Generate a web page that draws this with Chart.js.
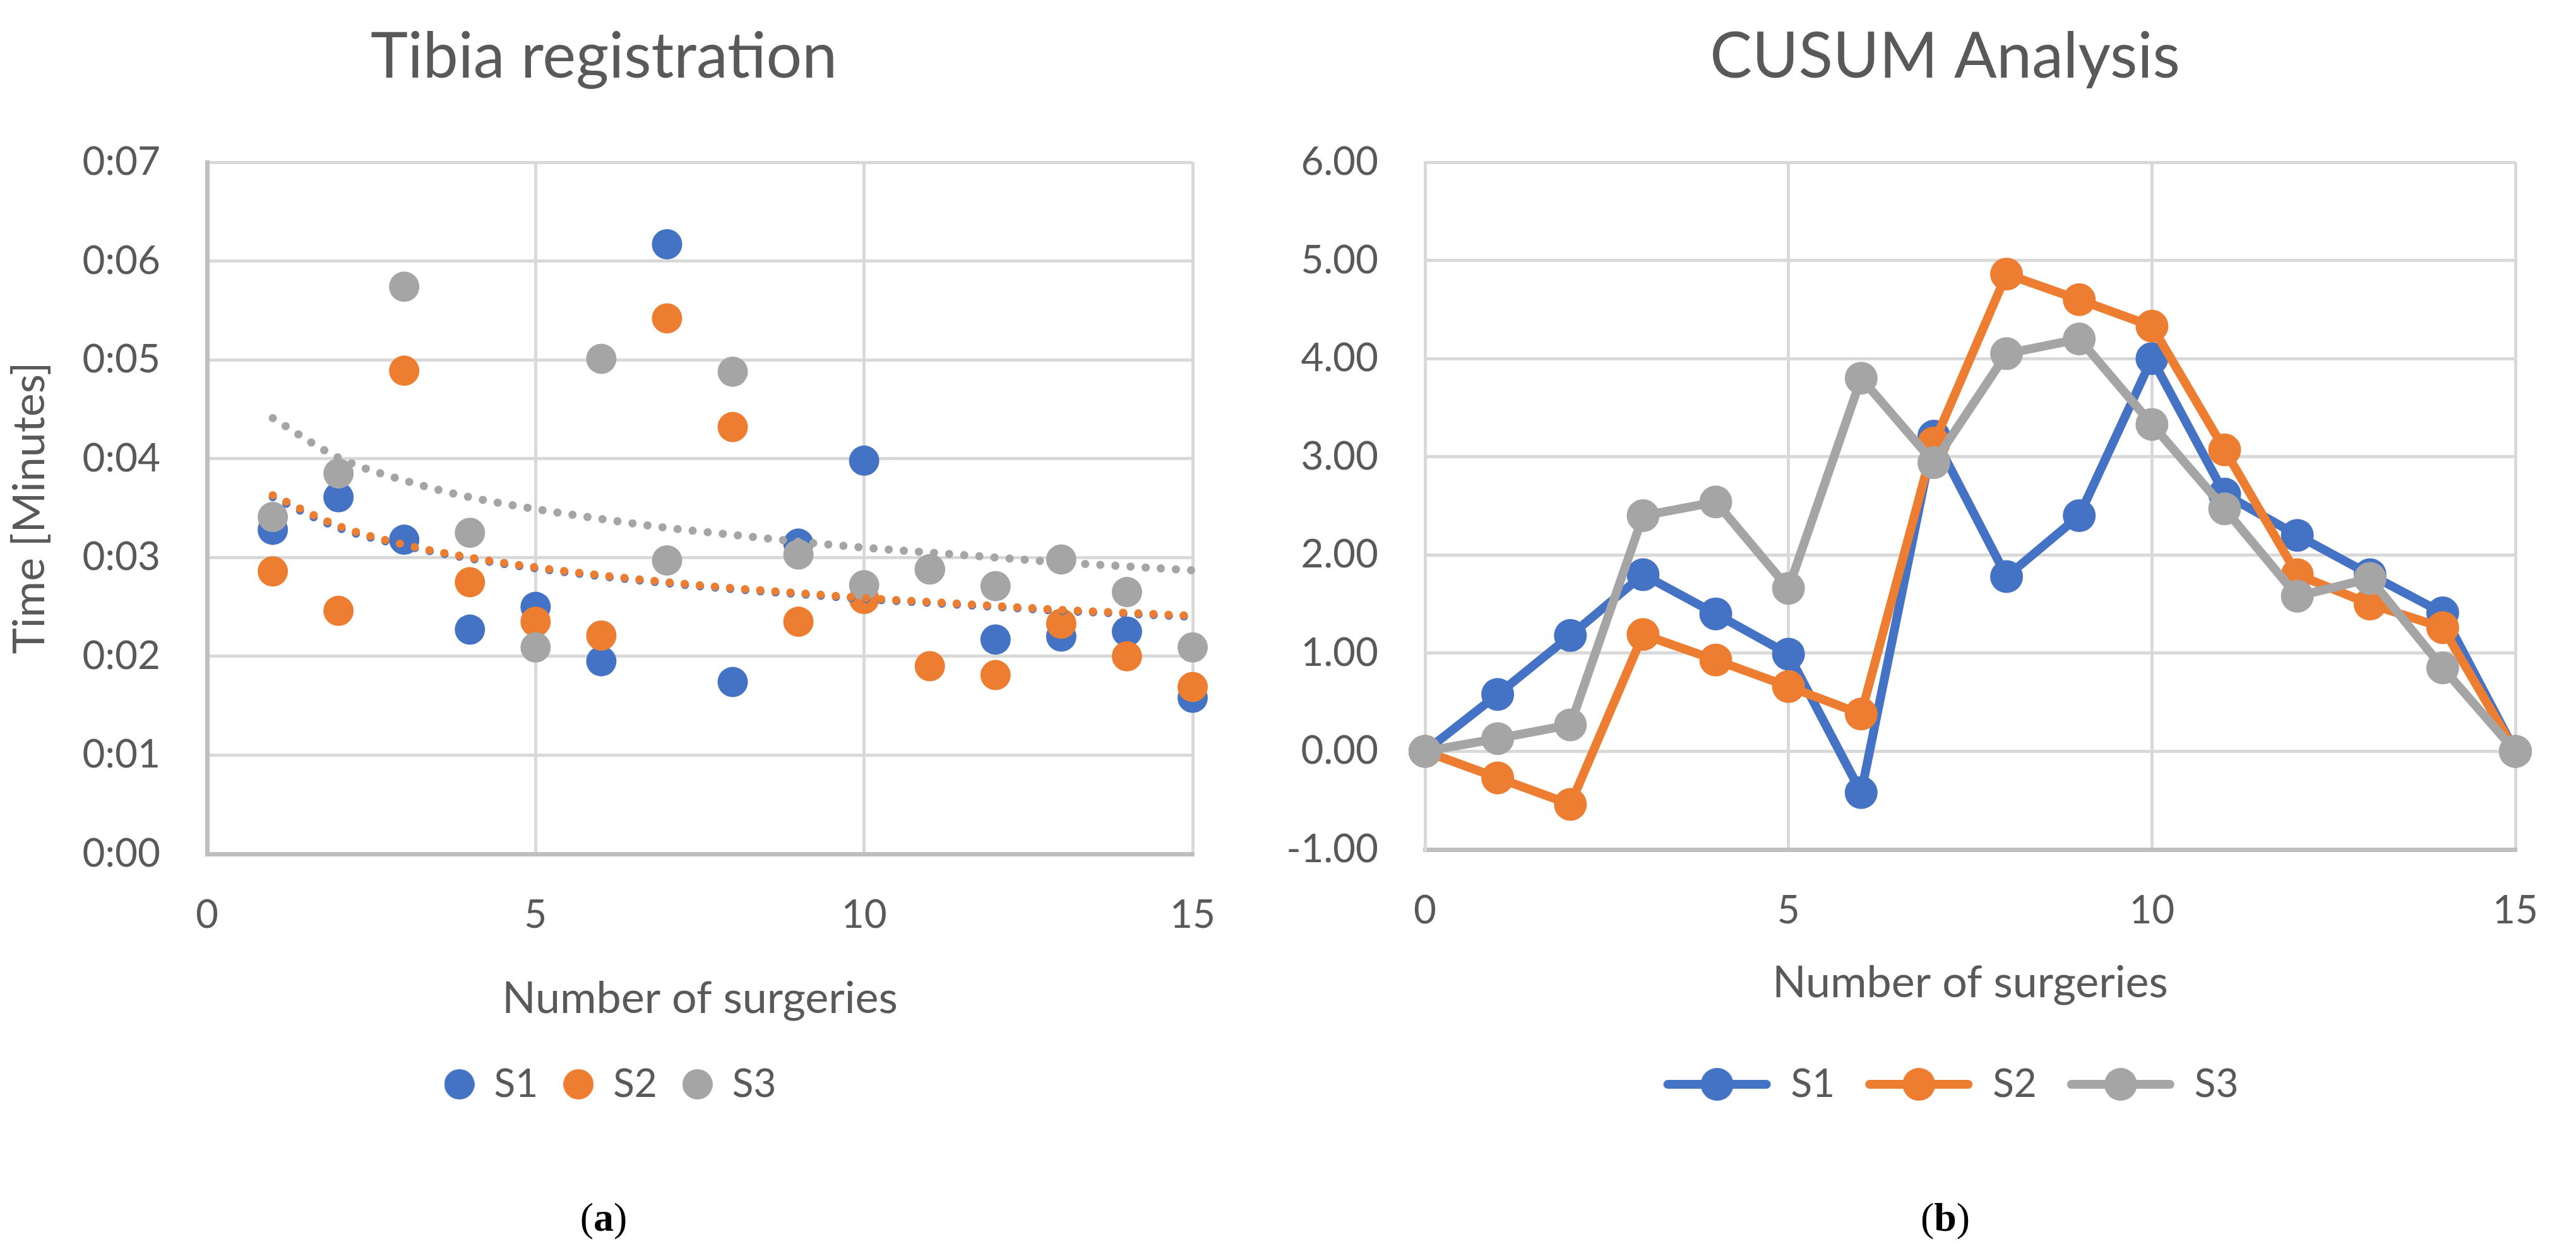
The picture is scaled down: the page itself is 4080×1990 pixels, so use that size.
<!DOCTYPE html>
<html>
<head>
<meta charset="utf-8">
<script src="https://cdn.jsdelivr.net/npm/chart.js@4.4.1/dist/chart.umd.min.js"></script>
<style>
  body { margin: 0; background: #fff; width: 4080px; height: 1990px; position: relative; overflow: hidden; }
  .panel { position: absolute; top: 0; width: 2040px; height: 1759px; }
  .caption { position: absolute; top: 1892px; font-family: "Liberation Serif", serif; font-size: 64px; color: #000; transform: translateX(-50%); }
</style>
</head>
<body>
<div class="panel" style="left:0"><canvas id="tibiaChart" width="2040" height="1759"></canvas></div>
<div class="panel" style="left:2040px"><canvas id="cusumChart" width="2040" height="1759"></canvas></div>
<div class="caption" style="left:956px">(<b>a</b>)</div>
<div class="caption" style="left:3081px">(<b>b</b>)</div>
<script>
// Tibia registration times (seconds shown as m:ss)
const surgeries = [1, 2, 3, 4, 5, 6, 7, 8, 9, 10, 11, 12, 13, 14, 15];
const timeS1 = [3.28, 3.61, 3.18, 2.27, 2.50, 1.95, 6.17, 1.74, 3.14, 3.98, 2.88, 2.17, 2.20, 2.25, 1.58];
const timeS2 = [2.86, 2.46, 4.89, 2.75, 2.35, 2.21, 5.42, 4.32, 2.35, 2.58, 1.90, 1.81, 2.33, 2.00, 1.69];
const timeS3 = [3.41, 3.85, 5.74, 3.25, 2.09, 5.01, 2.97, 4.88, 3.03, 2.72, 2.88, 2.71, 2.98, 2.65, 2.09];

// dotted trend lines
const trendS1 = [3.61, 3.30, 3.12, 2.99, 2.89, 2.81, 2.74, 2.68, 2.63, 2.58, 2.54, 2.50, 2.46, 2.43, 2.40];
const trendS2 = [3.63, 3.32, 3.13, 3.00, 2.90, 2.82, 2.75, 2.69, 2.64, 2.59, 2.55, 2.51, 2.47, 2.44, 2.41];
const trendS3 = [4.41, 4.01, 3.78, 3.61, 3.49, 3.39, 3.30, 3.23, 3.16, 3.10, 3.05, 3.00, 2.95, 2.91, 2.87];

// CUSUM analysis
const cusumX = [0, 1, 2, 3, 4, 5, 6, 7, 8, 9, 10, 11, 12, 13, 14, 15];
const cusumS1 = [0, 0.58, 1.18, 1.80, 1.40, 0.99, -0.42, 3.21, 1.78, 2.40, 4.00, 2.62, 2.20, 1.80, 1.41, 0];
const cusumS2 = [0, -0.27, -0.54, 1.19, 0.93, 0.66, 0.38, 3.14, 4.86, 4.60, 4.33, 3.07, 1.80, 1.50, 1.26, 0];
const cusumS3 = [0, 0.13, 0.27, 2.40, 2.54, 1.66, 3.80, 2.94, 4.05, 4.20, 3.33, 2.47, 1.58, 1.76, 0.85, 0];

const seriesNames = ['S1', 'S2', 'S3'];
const colors = ['#4472C4', '#ED7D31', '#A5A5A5'];
const textColor = '#595959';
const gridColor = '#d9d9d9';
const axisColor = '#bfbfbf';
const fontFamily = 'Lato, "Open Sans", sans-serif';

function points(xs, ys) {
    return xs.map((x, i) => ({ x: x, y: ys[i] }));
}

// nudge the title and legend sideways, they are centred on the whole figure in the original
const blockShift = {
    id: 'blockShift',
    afterLayout(chart, args, opts) {
        if (chart.titleBlock) {
            chart.titleBlock.left += opts.title || 0;
            chart.titleBlock.right += opts.title || 0;
        }
        if (chart.legend) {
            chart.legend.left += opts.legend || 0;
            chart.legend.right += opts.legend || 0;
        }
    }
};

// legend symbols drawn on small canvases
function dotSymbol(color) {
    const c = document.createElement('canvas');
    c.width = 48; c.height = 48;
    const g = c.getContext('2d');
    g.fillStyle = color;
    g.beginPath(); g.arc(24, 24, 24, 0, Math.PI * 2); g.fill();
    return c;
}

function lineSymbol(color) {
    const c = document.createElement('canvas');
    c.width = 172; c.height = 54;
    const g = c.getContext('2d');
    g.strokeStyle = color;
    g.lineWidth = 14;
    g.lineCap = 'round';
    g.beginPath(); g.moveTo(8, 27); g.lineTo(164, 27); g.stroke();
    g.fillStyle = color;
    g.beginPath(); g.arc(86, 27, 26, 0, Math.PI * 2); g.fill();
    return c;
}

function axisTitle(text, pad) {
    return { display: true, text: text, color: textColor, font: { family: fontFamily, size: 70 }, padding: pad };
}

function tickFont() {
    return { family: fontFamily, size: 62 };
}

function legendOptions(symbols, symbolWidth, padding) {
    return {
        display: true,
        position: 'bottom',
        labels: {
            color: textColor,
            font: { family: fontFamily, size: 62 },
            usePointStyle: true,
            pointStyleWidth: symbolWidth,
            padding: padding,
            filter: item => item.datasetIndex < 3,
            sort: (a, b) => a.datasetIndex - b.datasetIndex,
            generateLabels: chart => chart.data.datasets.map((ds, i) => ({
                text: ds.label,
                pointStyle: symbols[i] || 'circle',
                fillStyle: ds.backgroundColor,
                strokeStyle: ds.borderColor,
                fontColor: textColor,
                lineWidth: 0,
                hidden: false,
                datasetIndex: i
            }))
        }
    };
}

function titleOptions(text) {
    return {
        display: true,
        text: text,
        color: textColor,
        font: { family: fontFamily, size: 100, weight: 'normal' },
        padding: { top: 31, bottom: 106 }
    };
}

// (a) scatter with trend lines
const tibiaSets = [timeS1, timeS2, timeS3].map((ys, i) => ({
    label: seriesNames[i],
    data: points(surgeries, ys),
    backgroundColor: colors[i],
    borderColor: colors[i],
    pointRadius: 24,
    pointHoverRadius: 24,
    borderWidth: 0,
    showLine: false,
    clip: false,
    order: 10 - i
}));

[trendS1, trendS2, trendS3].forEach((ys, i) => {
    tibiaSets.push({
        label: seriesNames[i] + ' trend',
        type: 'line',
        data: points(surgeries, ys),
        borderColor: colors[i],
        backgroundColor: colors[i],
        borderWidth: 13,
        borderDash: [0, 24],
        borderCapStyle: 'round',
        pointRadius: 0,
        tension: 0.4,
        cubicInterpolationMode: 'monotone',
        fill: false,
        clip: false,
        order: 3 - i
    });
});

new Chart(document.getElementById('tibiaChart'), {
    type: 'scatter',
    data: { datasets: tibiaSets },
    plugins: [blockShift],
    options: {
        responsive: false,
        animation: false,
        devicePixelRatio: 1,
        layout: { padding: { left: 0, right: 151, top: 0, bottom: 0 } },
        plugins: {
            title: titleOptions('Tibia registration'),
            legend: legendOptions(colors.map(dotSymbol), 48, 40),
            tooltip: { enabled: false },
            blockShift: { title: 12, legend: 22 }
        },
        scales: {
            x: {
                type: 'linear',
                min: 0,
                max: 15,
                ticks: { stepSize: 5, color: textColor, font: tickFont(), padding: 60 },
                grid: { color: gridColor, lineWidth: 5, drawTicks: false },
                border: { color: axisColor, width: 7 },
                title: axisTitle('Number of surgeries', { top: 0, bottom: 23 }),
                afterFit: scale => { scale.height = 294; }
            },
            y: {
                min: 0,
                max: 7,
                ticks: {
                    stepSize: 1,
                    color: textColor,
                    font: tickFont(),
                    padding: 74,
                    callback: v => '0:0' + v
                },
                grid: { color: gridColor, lineWidth: 5, drawTicks: false },
                border: { color: axisColor, width: 7 },
                title: axisTitle('Time [Minutes]', { top: 5, bottom: 0 }),
                afterFit: scale => { scale.width = 328; }
            }
        }
    }
});

// (b) CUSUM lines
const cusumSets = [cusumS1, cusumS2, cusumS3].map((ys, i) => ({
    label: seriesNames[i],
    data: points(cusumX, ys),
    borderColor: colors[i],
    backgroundColor: colors[i],
    borderWidth: 14,
    pointRadius: 26,
    pointHoverRadius: 26,
    pointBorderWidth: 0,
    tension: 0,
    fill: false,
    clip: false,
    order: 10 - i
}));

new Chart(document.getElementById('cusumChart'), {
    type: 'line',
    data: { datasets: cusumSets },
    plugins: [blockShift],
    options: {
        responsive: false,
        animation: false,
        devicePixelRatio: 1,
        layout: { padding: { left: 0, right: 65, top: 0, bottom: 0 } },
        plugins: {
            title: titleOptions('CUSUM Analysis'),
            legend: legendOptions(colors.map(lineSymbol), 172, 47),
            tooltip: { enabled: false },
            blockShift: { title: 53, legend: 62 }
        },
        scales: {
            x: {
                type: 'linear',
                min: 0,
                max: 15,
                ticks: { stepSize: 5, color: textColor, font: tickFont(), padding: 60 },
                grid: { color: gridColor, lineWidth: 5, drawTicks: false },
                border: { color: axisColor, width: 7 },
                title: axisTitle('Number of surgeries', { top: 0, bottom: 41 }),
                afterFit: scale => { scale.height = 294; }
            },
            y: {
                min: -1,
                max: 6,
                ticks: {
                    stepSize: 1,
                    color: textColor,
                    font: tickFont(),
                    padding: 74,
                    callback: v => v.toFixed(2)
                },
                grid: { color: gridColor, lineWidth: 5, drawTicks: false },
                border: { color: gridColor, width: 5 },
                afterFit: scale => { scale.width = 217; }
            }
        }
    }
});
</script>
</body>
</html>
